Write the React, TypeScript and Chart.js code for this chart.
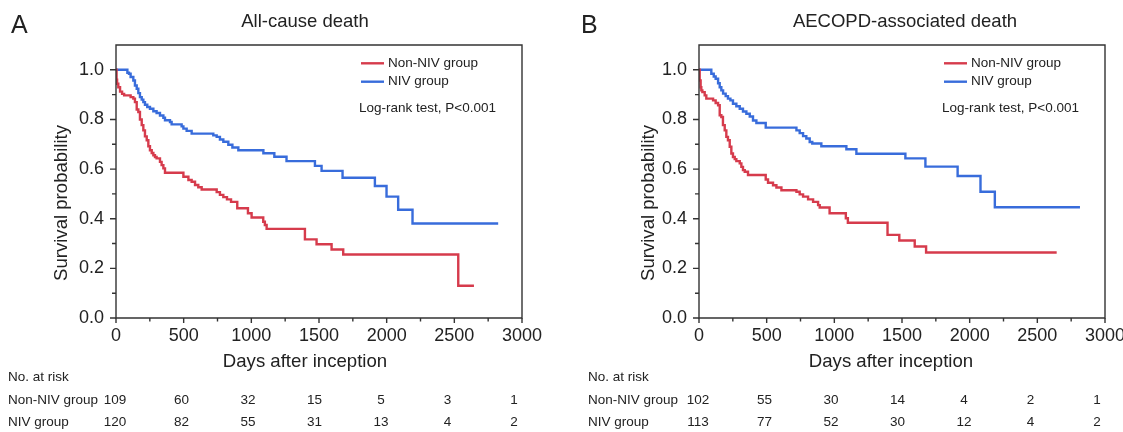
import React, { useEffect, useRef } from 'react';
import { Chart, registerables } from 'chart.js';

Chart.register(...registerables);

const FONT = '"Liberation Sans", Arial, Helvetica, sans-serif';
const RED = '#d63b4c';
const BLUE = '#386cdb';
const INK = '#222222';
const AXIS = '#333333';

const groupLabels = ['Non-NIV group', 'NIV group'];
const riskTitle = 'No. at risk';
const logRankText = 'Log-rank test, P<0.001';
const xAxisTitle = 'Days after inception';
const yAxisTitle = 'Survival probability';

const X_TICKS = [0, 500, 1000, 1500, 2000, 2500, 3000];
const X_MINOR_TICKS = [250, 750, 1250, 1750, 2250, 2750];
const Y_TICKS = [0, 0.2, 0.4, 0.6, 0.8, 1.0];
const Y_MINOR_TICKS = [0.1, 0.3, 0.5, 0.7, 0.9];
const RISK_TIMES = [0, 500, 1000, 1500, 2000, 2500, 3000];

// Panel A: All-cause death
const A_NONNIV_DAYS = [0, 4, 8, 17, 30, 45, 60, 108, 128, 140, 153, 165, 177, 190, 202, 214, 227, 239, 251, 264, 276, 288, 300, 325, 337, 350, 362, 498, 535, 559, 584, 608, 633, 744, 768, 793, 820, 850, 896, 975, 1002, 1088, 1100, 1113, 1396, 1482, 1593, 1679, 2529, 2645];
const A_NONNIV_SURV = [1, 0.96, 0.944, 0.93, 0.912, 0.903, 0.897, 0.89, 0.884, 0.87, 0.84, 0.83, 0.8, 0.777, 0.756, 0.732, 0.716, 0.692, 0.676, 0.665, 0.656, 0.649, 0.643, 0.629, 0.616, 0.603, 0.585, 0.569, 0.556, 0.549, 0.536, 0.527, 0.518, 0.507, 0.496, 0.487, 0.478, 0.468, 0.442, 0.422, 0.405, 0.388, 0.375, 0.359, 0.317, 0.297, 0.276, 0.256, 0.13, 0.13];
const A_NIV_DAYS = [0, 84, 96, 108, 128, 140, 153, 165, 177, 190, 202, 214, 231, 251, 276, 300, 325, 350, 362, 399, 411, 485, 498, 522, 559, 719, 744, 768, 793, 830, 860, 904, 1089, 1170, 1260, 1470, 1519, 1674, 1913, 1999, 2085, 2191, 2824];
const A_NIV_SURV = [1, 0.988, 0.984, 0.971, 0.957, 0.937, 0.924, 0.906, 0.89, 0.88, 0.87, 0.859, 0.85, 0.843, 0.833, 0.826, 0.816, 0.807, 0.797, 0.79, 0.78, 0.772, 0.763, 0.754, 0.743, 0.736, 0.73, 0.719, 0.71, 0.698, 0.687, 0.676, 0.664, 0.65, 0.632, 0.613, 0.593, 0.565, 0.532, 0.489, 0.436, 0.381, 0.381];
const A_RISK_NONNIV = [109, 60, 32, 15, 5, 3, 1];
const A_RISK_NIV = [120, 82, 55, 31, 13, 4, 2];

// Panel B: AECOPD-associated death
const B_NONNIV_DAYS = [0, 5, 12, 17, 25, 42, 54, 104, 123, 141, 153, 165, 177, 190, 202, 214, 227, 239, 251, 264, 276, 301, 313, 325, 338, 362, 493, 510, 547, 572, 609, 720, 744, 769, 806, 843, 880, 892, 965, 1085, 1100, 1393, 1480, 1594, 1678, 2643];
const B_NONNIV_SURV = [1, 0.957, 0.93, 0.917, 0.91, 0.897, 0.884, 0.877, 0.866, 0.857, 0.817, 0.81, 0.777, 0.756, 0.73, 0.716, 0.69, 0.663, 0.649, 0.64, 0.632, 0.623, 0.609, 0.596, 0.589, 0.576, 0.558, 0.545, 0.535, 0.526, 0.515, 0.509, 0.498, 0.489, 0.478, 0.468, 0.455, 0.445, 0.422, 0.402, 0.384, 0.335, 0.312, 0.288, 0.264, 0.264];
const B_NIV_DAYS = [0, 91, 109, 123, 141, 153, 165, 178, 197, 214, 232, 251, 276, 301, 325, 350, 375, 399, 424, 493, 720, 744, 769, 793, 818, 837, 904, 1089, 1163, 1525, 1673, 1911, 2080, 2186, 2815];
const B_NIV_SURV = [1, 0.984, 0.973, 0.964, 0.946, 0.93, 0.917, 0.904, 0.894, 0.884, 0.877, 0.863, 0.853, 0.843, 0.832, 0.823, 0.812, 0.796, 0.786, 0.767, 0.756, 0.745, 0.733, 0.723, 0.709, 0.703, 0.692, 0.68, 0.662, 0.643, 0.61, 0.572, 0.509, 0.446, 0.446];
const B_RISK_NONNIV = [102, 55, 30, 14, 4, 2, 1];
const B_RISK_NIV = [113, 77, 52, 30, 12, 4, 2];

type Spec = {
  letter: string;
  title: string;
  redDays: number[];
  redSurv: number[];
  blueDays: number[];
  blueSurv: number[];
  riskRed: number[];
  riskBlue: number[];
  axisLeft: number;
  rightPad: number;
  letterX: number;
  titleX: number;
  xTitleX: number;
  yTitleX: number;
  tableX: number;
};

const specA: Spec = {
  letter: 'A', title: 'All-cause death',
  redDays: A_NONNIV_DAYS, redSurv: A_NONNIV_SURV, blueDays: A_NIV_DAYS, blueSurv: A_NIV_SURV,
  riskRed: A_RISK_NONNIV, riskBlue: A_RISK_NIV,
  axisLeft: 116, rightPad: 39, letterX: 11, titleX: 305, xTitleX: 305, yTitleX: 62, tableX: 8,
};

const specB: Spec = {
  letter: 'B', title: 'AECOPD-associated death',
  redDays: B_NONNIV_DAYS, redSurv: B_NONNIV_SURV, blueDays: B_NIV_DAYS, blueSurv: B_NIV_SURV,
  riskRed: B_RISK_NONNIV, riskBlue: B_RISK_NIV,
  axisLeft: 138, rightPad: 18, letterX: 20, titleX: 344, xTitleX: 330, yTitleX: 88, tableX: 27,
};

const zip = (xs: number[], ys: number[]) => xs.map((x, i) => ({ x, y: ys[i] }));

function makeDecor(spec: Spec) {
  return {
    id: 'decor' + spec.letter,
    afterDraw(chart: any) {
      const { ctx, chartArea: ca, scales } = chart;
      const xs = scales.x;
      const ys = scales.y;
      ctx.save();
      // frame
      ctx.strokeStyle = AXIS;
      ctx.lineWidth = 1.4;
      ctx.beginPath();
      ctx.moveTo(ca.left, ca.top);
      ctx.lineTo(ca.right, ca.top);
      ctx.lineTo(ca.right, ca.bottom);
      ctx.lineTo(ca.left, ca.bottom);
      ctx.closePath();
      ctx.stroke();
      // ticks
      ctx.beginPath();
      X_TICKS.forEach((t) => { const p = xs.getPixelForValue(t); ctx.moveTo(p, ca.bottom); ctx.lineTo(p, ca.bottom + 5); });
      X_MINOR_TICKS.forEach((t) => { const p = xs.getPixelForValue(t); ctx.moveTo(p, ca.bottom); ctx.lineTo(p, ca.bottom + 3.5); });
      Y_TICKS.forEach((t) => { const p = ys.getPixelForValue(t); ctx.moveTo(ca.left, p); ctx.lineTo(ca.left - 6, p); });
      Y_MINOR_TICKS.forEach((t) => { const p = ys.getPixelForValue(t); ctx.moveTo(ca.left, p); ctx.lineTo(ca.left - 4, p); });
      ctx.stroke();

      ctx.fillStyle = INK;
      // panel letter
      ctx.font = `25px ${FONT}`;
      ctx.textAlign = 'left';
      ctx.textBaseline = 'alphabetic';
      ctx.fillText(spec.letter, spec.letterX, 33);
      // title
      ctx.font = `18.5px ${FONT}`;
      ctx.textAlign = 'center';
      ctx.fillText(spec.title, spec.titleX, 27);
      // axis titles
      ctx.font = `18.6px ${FONT}`;
      ctx.textBaseline = 'middle';
      ctx.fillText(xAxisTitle, spec.xTitleX, 362);
      ctx.save();
      ctx.translate(spec.yTitleX, 203);
      ctx.rotate(-Math.PI / 2);
      ctx.fillText(yAxisTitle, 0, 0);
      ctx.restore();

      // legend
      const lx = ca.right - 161;
      const colors = [RED, BLUE];
      ctx.font = `13.5px ${FONT}`;
      ctx.textAlign = 'left';
      groupLabels.forEach((lab, i) => {
        const ly = 63.3 + i * 18.4;
        ctx.strokeStyle = colors[i];
        ctx.lineWidth = 2.4;
        ctx.beginPath();
        ctx.moveTo(lx, ly);
        ctx.lineTo(lx + 23, ly);
        ctx.stroke();
        ctx.fillText(lab, lx + 27, ly);
      });
      ctx.fillText(logRankText, ca.right - 163, 108);

      // risk table
      ctx.font = `13.5px ${FONT}`;
      ctx.textAlign = 'left';
      ctx.fillText(riskTitle, spec.tableX, 377);
      ctx.fillText(groupLabels[0], spec.tableX, 400);
      ctx.fillText(groupLabels[1], spec.tableX, 422);
      ctx.textAlign = 'center';
      RISK_TIMES.forEach((t, j) => {
        const px = xs.getPixelForValue(t) - 1 - (7 * t) / 3000;
        ctx.fillText(String(spec.riskRed[j]), px, 400);
        ctx.fillText(String(spec.riskBlue[j]), px, 422);
      });
      ctx.restore();
    },
  };
}

function buildConfig(spec: Spec): any {
  return {
    type: 'line',
    data: {
      datasets: [
        { label: groupLabels[0], data: zip(spec.redDays, spec.redSurv), borderColor: RED, borderWidth: 2.4, pointRadius: 0, stepped: true, fill: false },
        { label: groupLabels[1], data: zip(spec.blueDays, spec.blueSurv), borderColor: BLUE, borderWidth: 2.4, pointRadius: 0, stepped: true, fill: false },
      ],
    },
    options: {
      responsive: false,
      animation: false,
      devicePixelRatio: 1,
      layout: { padding: { left: 0, top: 45, right: spec.rightPad, bottom: 0 } },
      plugins: { legend: { display: false }, tooltip: { enabled: false }, title: { display: false } },
      scales: {
        x: {
          type: 'linear', min: 0, max: 3000,
          afterBuildTicks: (s: any) => { s.ticks = X_TICKS.map((value) => ({ value })); },
          ticks: { callback: (v: any) => String(v), font: { family: FONT, size: 18 }, color: INK, padding: 7, maxRotation: 0, autoSkip: false },
          grid: { display: false, drawTicks: false, tickLength: 0 },
          border: { display: false },
          afterFit: (s: any) => { s.height = 432 - 318; s.paddingLeft = 0; s.paddingRight = 0; },
        },
        y: {
          type: 'linear', min: 0, max: 1.1,
          afterBuildTicks: (s: any) => { s.ticks = Y_TICKS.map((value) => ({ value })); },
          ticks: { callback: (v: any) => Number(v).toFixed(1), font: { family: FONT, size: 18 }, color: INK, padding: 12, autoSkip: false },
          grid: { display: false, drawTicks: false, tickLength: 0 },
          border: { display: false },
          afterFit: (s: any) => { s.width = spec.axisLeft; s.paddingTop = 0; s.paddingBottom = 0; },
        },
      },
    },
    plugins: [makeDecor(spec)],
  };
}

function KMPanel({ left, width, spec }: { left: number; width: number; spec: Spec }) {
  const ref = useRef<HTMLCanvasElement>(null);
  useEffect(() => {
    const chart = new Chart(ref.current as HTMLCanvasElement, buildConfig(spec));
    return () => chart.destroy();
  }, [spec]);
  return (
    <canvas
      ref={ref}
      width={width}
      height={432}
      style={{ position: 'absolute', left, top: 0, width, height: 432 }}
    />
  );
}

export default function App() {
  return (
    <div style={{ position: 'fixed', left: 0, top: 0, width: 1123, height: 432, background: '#ffffff', overflow: 'hidden' }}>
      <KMPanel left={0} width={561} spec={specA} />
      <KMPanel left={561} width={562} spec={specB} />
    </div>
  );
}
